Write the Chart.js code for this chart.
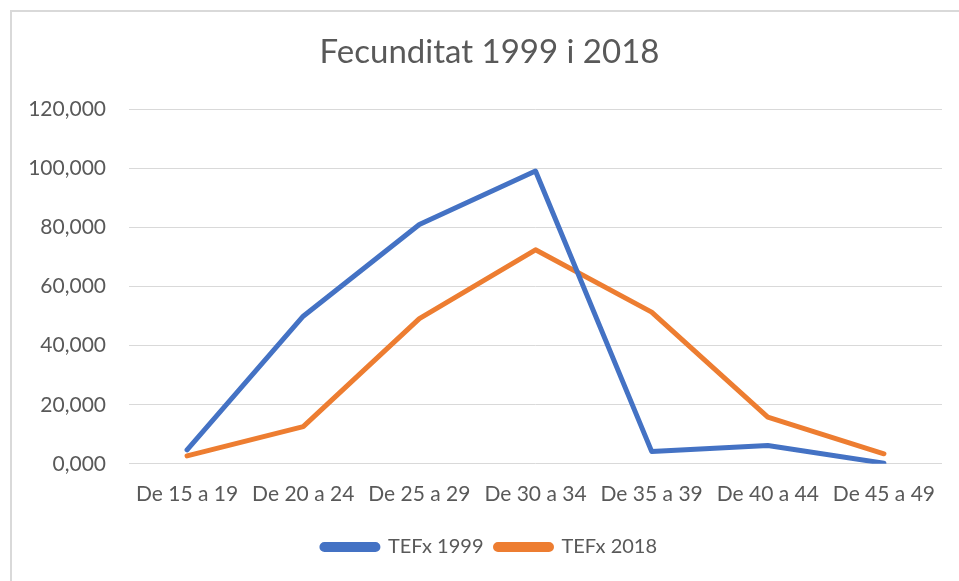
<!DOCTYPE html>
<html>
<head>
<meta charset="utf-8">
<script src="https://cdn.jsdelivr.net/npm/chart.js@4"></script>
<style>
  html, body { margin: 0; padding: 0; background: #ffffff; }
  #wrap { width: 959px; height: 581px; position: relative; }
</style>
</head>
<body>
<div id="wrap"><canvas id="grafic" width="959" height="581"></canvas></div>
<script>
// Dades llegides del gràfic
const categories = ['De 15 a 19', 'De 20 a 24', 'De 25 a 29', 'De 30 a 34', 'De 35 a 39', 'De 40 a 44', 'De 45 a 49'];
const tefx1999 = [4.7, 50.0, 81.1, 99.2, 4.2, 6.2, 0.2];
const tefx2018 = [2.7, 12.6, 49.2, 72.5, 51.4, 15.8, 3.4];
const yTicks = [0, 20, 40, 60, 80, 100, 120];

const gris = '#595959';
const font = 'Lato, "Liberation Sans", sans-serif';

// Marc exterior del gràfic (com a Excel)
const marc = {
    id: 'marc',
    beforeDraw(chart) {
        const ctx = chart.ctx;
        ctx.save();
        ctx.fillStyle = '#ffffff';
        ctx.fillRect(0, 0, chart.width, chart.height);
        ctx.strokeStyle = '#d9d9d9';
        ctx.lineWidth = 2;
        ctx.strokeRect(11, 11, chart.width + 20, chart.height + 20);
        ctx.restore();
    }
};

new Chart(document.getElementById('grafic'), {
    type: 'line',
    data: {
        labels: categories,
        datasets: [
            {
                label: 'TEFx 1999',
                data: tefx1999,
                borderColor: '#4472c4',
                backgroundColor: '#4472c4',
                borderWidth: 5,
                pointRadius: 0,
                borderCapStyle: 'round',
                borderJoinStyle: 'round',
                tension: 0
            },
            {
                label: 'TEFx 2018',
                data: tefx2018,
                borderColor: '#ed7d31',
                backgroundColor: '#ed7d31',
                borderWidth: 5,
                pointRadius: 0,
                borderCapStyle: 'round',
                borderJoinStyle: 'round',
                tension: 0
            }
        ]
    },
    options: {
        responsive: false,
        animation: false,
        layout: { padding: { left: 37, right: 17, top: 0, bottom: 14 } },
        plugins: {
            title: {
                display: true,
                text: 'Fecunditat 1999 i 2018',
                color: gris,
                font: { family: font, size: 33, weight: 'normal' },
                padding: { top: 33, bottom: 37 }
            },
            legend: {
                position: 'bottom',
                labels: {
                    color: gris,
                    font: { family: font, size: 20 },
                    boxWidth: 56,
                    boxHeight: 5,
                    useBorderRadius: true,
                    borderRadius: 2.5,
                    padding: 12
                }
            },
            tooltip: { enabled: false }
        },
        scales: {
            x: {
                offset: true,
                grid: { display: false, drawTicks: false },
                border: { display: false },
                ticks: {
                    color: gris,
                    font: { family: font, size: 21 },
                    padding: 18,
                    maxRotation: 0,
                    autoSkip: false
                }
            },
            y: {
                min: 0,
                max: 120,
                afterFit(scale) {
                    scale.width = 92;
                    // les etiquetes sobresurten cap a l'esquerra: no les retallem
                    scale._computeLabelArea = () => undefined;
                },
                afterBuildTicks(scale) { scale.ticks = yTicks.map(v => ({ value: v })); },
                grid: { color: '#d9d9d9', lineWidth: 1, drawTicks: false },
                border: { display: false },
                ticks: {
                    color: gris,
                    font: { family: font, size: 21 },
                    padding: 23,
                    callback: v => v.toFixed(3).replace('.', ',')
                }
            }
        }
    },
    plugins: [marc]
});
</script>
</body>
</html>
